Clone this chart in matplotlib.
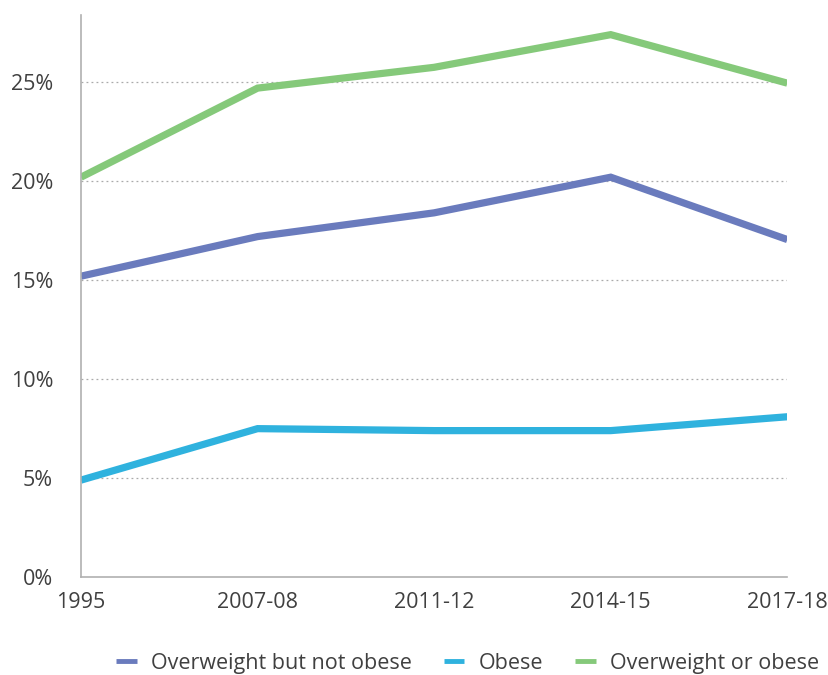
import matplotlib.pyplot as plt
from matplotlib.ticker import FuncFormatter

plt.rcParams['font.family'] = ['Open Sans', 'DejaVu Sans']

years = ["1995", "2007-08", "2011-12", "2014-15", "2017-18"]
overweight_not_obese = [15.2, 17.2, 18.4, 20.2, 17.05]
obese = [4.9, 7.5, 7.4, 7.4, 8.1]
overweight_or_obese = [20.2, 24.7, 25.75, 27.4, 24.95]

series = [
    ("Overweight but not obese", overweight_not_obese, "#6a7bbd"),
    ("Obese", obese, "#2fb2de"),
    ("Overweight or obese", overweight_or_obese, "#85c97a"),
]

fig = plt.figure(figsize=(8.29, 6.75), dpi=100)
ax = fig.add_axes([0.0977, 0.145, 0.852, 0.833])

x = list(range(len(years)))
for label, vals, col in series:
    ax.plot(x, vals, color=col, lw=5.2, label=label, solid_capstyle='butt',
            solid_joinstyle='miter')

ax.set_xlim(0, len(years) - 1)
ax.set_ylim(0, 28.4)
ax.set_yticks([0, 5, 10, 15, 20, 25])
ax.yaxis.set_major_formatter(FuncFormatter(lambda v, p: f"{int(v)}%"))
ax.set_xticks(x)
ax.set_xticklabels(years)

for y in [5, 10, 15, 20, 25]:
    ax.axhline(y, color="#aaaaaa", lw=0.9, ls=(0, (1.5, 2.5)), zorder=0)

for s in ["top", "right"]:
    ax.spines[s].set_visible(False)
for s in ["left", "bottom"]:
    ax.spines[s].set_color("#b0b0b0")
    ax.spines[s].set_linewidth(1.2)

ax.tick_params(axis='both', length=0, labelsize=15.5, colors="#404040")
ax.tick_params(axis='y', pad=20)
ax.tick_params(axis='x', pad=11)

leg = fig.legend(loc='center', bbox_to_anchor=(0.564, 0.017), ncol=3, frameon=False,
                 fontsize=15.5, handlelength=0.95, columnspacing=1.5,
                 handletextpad=0.65, labelcolor="#404040")
for ln in leg.get_lines():
    ln.set_linewidth(3.5)

fig.savefig("out.png", dpi=100)
